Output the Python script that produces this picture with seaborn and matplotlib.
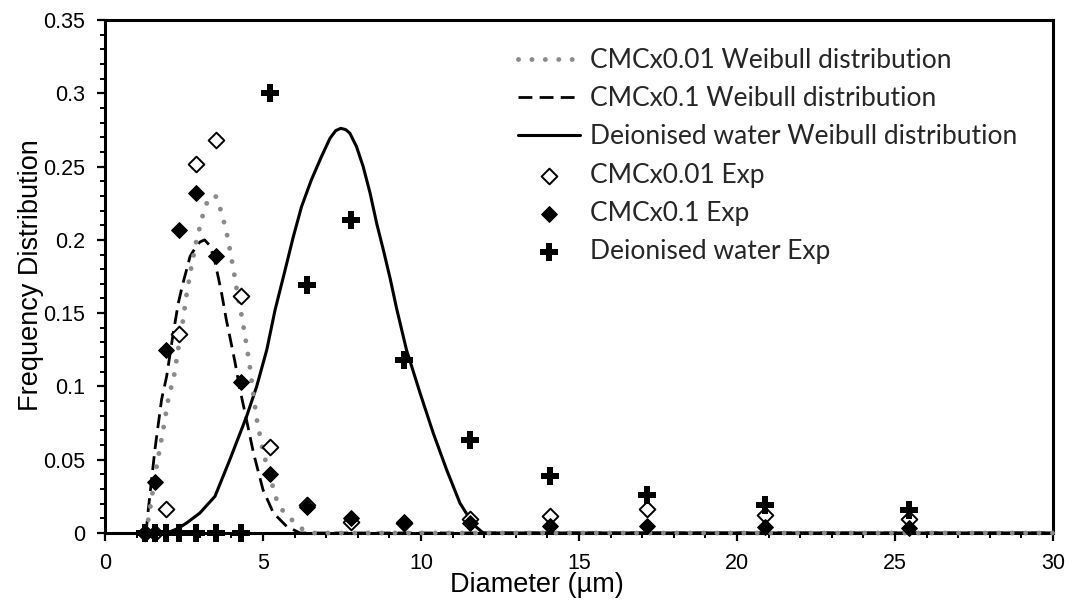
import matplotlib
matplotlib.use("Agg")
import matplotlib.pyplot as plt
import seaborn as sns
import pandas as pd

# ---------------- data ----------------
bins = [1.27, 1.58, 1.93, 2.35, 2.88, 3.51, 4.29, 5.22, 6.38, 7.77,
        9.46, 11.55, 14.07, 17.15, 20.9, 25.45]
cmc001_exp = [0, 0, 0.0164, 0.136, 0.252, 0.268, 0.162, 0.0586, 0.019,
              0.0075, 0.007, 0.0095, 0.0113, 0.0164, 0.0125, 0.0095]
cmc01_exp = [0, 0.0345, 0.125, 0.207, 0.232, 0.189, 0.103, 0.040, 0.0177,
             0.0102, 0.0072, 0.0068, 0.005, 0.005, 0.004, 0.0034]
water_exp = [0, 0, 0, 0, 0, 0, 0, 0.300, 0.169, 0.2136, 0.118, 0.0636,
             0.0386, 0.026, 0.0193, 0.0159]

cmc001_fit_x = [1.30, 1.37, 1.50, 1.63, 1.85, 2.00, 2.19, 2.32, 2.46, 2.58,
                2.72, 2.88, 2.98, 3.09, 3.22, 3.38, 3.51, 3.66, 3.77, 3.87,
                3.95, 4.10, 4.20, 4.32, 4.46, 4.59, 4.70, 4.80, 5.00, 5.22,
                5.43, 5.64, 5.96, 6.28, 6.60, 30.0]
cmc001_fit_y = [0, 0.009, 0.027, 0.045, 0.0716, 0.091, 0.108, 0.126, 0.144,
                0.1625, 0.180, 0.198, 0.207, 0.2164, 0.225, 0.2302, 0.2295,
                0.2204, 0.2118, 0.2027, 0.1936, 0.1754, 0.162, 0.1488, 0.1306,
                0.1125, 0.094, 0.078, 0.0557, 0.0386, 0.0227, 0.0147, 0.008,
                0.002, 0, 0]

cmc01_fit_x = [1.30, 1.37, 1.58, 1.79, 1.95, 2.16, 2.32, 2.45, 2.58, 2.69,
               2.85, 3.00, 3.15, 3.30, 3.45, 3.59, 3.69, 3.84, 3.95, 4.11,
               4.27, 4.48, 4.70, 5.00, 5.33, 5.75, 6.17, 30.0]
cmc01_fit_y = [0, 0.016, 0.057, 0.091, 0.1068, 0.1364, 0.1568, 0.169, 0.1795,
               0.1886, 0.1943, 0.1985, 0.2000, 0.1965, 0.188, 0.1739, 0.1636,
               0.1454, 0.134, 0.117, 0.098, 0.077, 0.0545, 0.0295, 0.0136,
               0.0045, 0, 0]

water_fit_x = [1.95, 2.30, 2.58, 3.00, 3.48, 3.95, 4.48, 4.80, 5.12, 5.38,
               5.70, 5.96, 6.22, 6.53, 6.85, 7.12, 7.30, 7.46, 7.62, 7.75,
               7.96, 8.17, 8.39, 8.60, 8.81, 9.02, 9.23, 9.54, 9.97, 10.39,
               10.81, 11.23, 11.66, 11.97, 30.0]
water_fit_y = [0, 0.003, 0.0068, 0.0136, 0.025, 0.050, 0.0795, 0.100, 0.125,
               0.152, 0.1795, 0.2022, 0.2227, 0.2409, 0.2568, 0.2693, 0.2745,
               0.2761, 0.2752, 0.2727, 0.2636, 0.250, 0.2318, 0.211, 0.193,
               0.174, 0.153, 0.125, 0.0955, 0.068, 0.0432, 0.0205, 0.0057,
               0, 0]

labels = ["CMCx0.01 Weibull distribution", "CMCx0.1 Weibull distribution",
          "Deionised water Weibull distribution", "CMCx0.01 Exp",
          "CMCx0.1 Exp", "Deionised water Exp"]

x_ticks = [0, 5, 10, 15, 20, 25, 30]
y_ticks = [0, 0.05, 0.1, 0.15, 0.2, 0.25, 0.3, 0.35]
y_tick_labels = ["0", "0.05", "0.1", "0.15", "0.2", "0.25", "0.3", "0.35"]

# ---------------- figure ----------------
sns.set_style("white")
plt.rcParams["font.family"] = ["Liberation Sans", "DejaVu Sans"]

W, H = 1082, 603
fig = plt.figure(figsize=(W / 100, H / 100), dpi=100)
ax = fig.add_axes([105 / W, (H - 533) / H, (1053 - 105) / W, (533 - 20) / H])

exp = pd.DataFrame({"d": bins, "c001": cmc001_exp, "c01": cmc01_exp, "w": water_exp})
f1 = pd.DataFrame({"x": cmc001_fit_x, "y": cmc001_fit_y})
f2 = pd.DataFrame({"x": cmc01_fit_x, "y": cmc01_fit_y})
f3 = pd.DataFrame({"x": water_fit_x, "y": water_fit_y})

sns.lineplot(data=f1, x="x", y="y", ax=ax, sort=False, estimator=None,
             color="#8a8a8a", lw=3.5, label=labels[0], zorder=3, clip_on=False)
sns.lineplot(data=f2, x="x", y="y", ax=ax, sort=False, estimator=None,
             color="black", lw=2.0, label=labels[1], zorder=2.4)
sns.lineplot(data=f3, x="x", y="y", ax=ax, sort=False, estimator=None,
             color="black", lw=2.2, label=labels[2], zorder=2.4)

dotted, dashed, solid = ax.lines[0], ax.lines[1], ax.lines[2]
dotted.set_linestyle((0, (0.01, 2.75)))
dotted.set_dash_capstyle("round")
dashed.set_linestyle((0, (5, 2.6)))
dashed.set_dash_capstyle("butt")
solid.set_linestyle("-")
solid.set_solid_joinstyle("round")

sns.scatterplot(data=exp, x="d", y="c001", ax=ax, marker="D", s=64,
                color="white", edgecolor="black", linewidth=1.4,
                label=labels[3], zorder=4, clip_on=False)
sns.scatterplot(data=exp, x="d", y="c01", ax=ax, marker="D", s=64,
                color="black", edgecolor="black", linewidth=0.8,
                label=labels[4], zorder=5, clip_on=False)
sns.scatterplot(data=exp, x="d", y="w", ax=ax, marker="P", s=150,
                color="black", linewidth=0, label=labels[5], zorder=6,
                clip_on=False)

ax.set_xlim(0, 30)
ax.set_ylim(0, 0.35)
ax.set_xticks(x_ticks)
ax.set_xticklabels([str(t) for t in x_ticks])
ax.set_yticks(y_ticks)
ax.set_yticklabels(y_tick_labels)
ax.set_xticks(range(0, 31), minor=True)
ax.set_yticks([i / 100 for i in range(0, 36)], minor=True)

for s in ax.spines.values():
    s.set_linewidth(2.2)
    s.set_color("black")
    s.set_visible(True)

ax.tick_params(axis="both", which="major", direction="out", length=5.5,
               width=1.6, color="black", labelsize=15.5, labelcolor="black")
ax.tick_params(axis="both", which="minor", direction="out", length=3.8,
               width=1.4, color="black")
ax.tick_params(axis="x", which="both", bottom=True, top=False, pad=9)
ax.tick_params(axis="y", which="both", left=True, right=False, pad=9)

ax.set_xlabel("Diameter (µm)", fontsize=19.5, color="black")
ax.set_ylabel("Frequency Distribution", fontsize=19.5, color="black")
ax.xaxis.set_label_coords(0.456, -0.076)
ax.yaxis.set_label_coords(-0.064, 0.503)

handles, labs = ax.get_legend_handles_labels()
if ax.legend_ is not None:
    ax.legend_.remove()
leg = fig.legend(handles, labs, loc="upper left",
                 bbox_to_anchor=(518 / W, 1 - 48 / H),
                 bbox_transform=fig.transFigure, frameon=False,
                 borderpad=0, borderaxespad=0, handlelength=2.35,
                 handletextpad=0.38, labelspacing=0.5, scatterpoints=1,
                 prop={"family": ["Lato", "DejaVu Sans"], "size": 19})

fig.savefig("out.png", dpi=100, facecolor="white")
